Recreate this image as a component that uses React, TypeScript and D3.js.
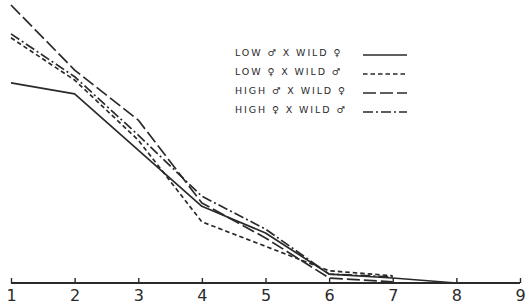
import React, { useEffect, useRef } from "react";
import * as d3 from "d3";

const classes = [1, 2, 3, 4, 5, 6, 7, 8, 9];
const tickLabels = ["1", "2", "3", "4", "5", "6", "7", "8", "9"];
const lowMaleWildFemale = [36.0, 34.0, 23.9, 13.8, 9.0, 1.6, 0.9, 0, 0];
const lowFemaleWildMale = [44.1, 36.5, 25.7, 11.0, 6.6, 2.2, 1.3];
const highMaleWildFemale = [50.0, 38.3, 29.3, 14.4, 8.1, 0.9, 0.2];
const highFemaleWildMale = [44.8, 37.1, 26.6, 15.6, 9.7, 1.6, 1.1];
const seriesNames = ["LOW ♂ X WILD ♀", "LOW ♀ X WILD ♂", "HIGH ♂ X WILD ♀", "HIGH ♀ X WILD ♂"];
const dashes = ["none", "4.5 3", "13 4", "10 3 2 3"];

const W = 529;
const H = 306;

export default function App() {
  const ref = useRef<SVGSVGElement | null>(null);
  useEffect(() => {
    const svg = d3.select(ref.current);
    svg.selectAll("*").remove();
    const x = d3.scaleLinear().domain([1, 9]).range([11, 520]);
    const y = d3.scaleLinear().domain([0, 50]).range([283, 5]);
    const ink = "#2a2a2a";
    const allSeries = [lowMaleWildFemale, lowFemaleWildMale, highMaleWildFemale, highFemaleWildMale];
    const line = d3
      .line<number>()
      .x((_, i) => x(classes[i]))
      .y((d) => y(d));
    allSeries.forEach((s, k) => {
      svg
        .append("path")
        .attr("d", line(s) as string)
        .attr("fill", "none")
        .attr("stroke", ink)
        .attr("stroke-width", 1.7)
        .attr("stroke-dasharray", dashes[k])
        .attr("stroke-linejoin", "round");
    });
    // axis
    const axis = d3
      .axisBottom(x)
      .tickValues(classes)
      .tickSize(-5)
      .tickFormat((_, i) => tickLabels[i]);
    const g = svg.append("g").attr("transform", `translate(0,${y(0)})`).call(axis);
    g.select(".domain").attr("stroke", ink).attr("stroke-width", 2).attr("d", `M${x(1)},0H${x(9)}`);
    g.selectAll(".tick line").attr("stroke", ink).attr("stroke-width", 1.4);
    g.selectAll(".tick text")
      .attr("y", 7)
      .attr("dy", "0.71em")
      .attr("fill", ink)
      .attr("font-family", "DejaVu Sans")
      .attr("font-size", 16);
    // legend
    const legendY = [52, 71, 90, 109];
    seriesNames.forEach((name, k) => {
      svg
        .append("text")
        .attr("x", 235)
        .attr("y", legendY[k] + 4)
        .attr("font-family", "DejaVu Sans")
        .attr("font-size", 9.5)
        .attr("letter-spacing", 1.9)
        .attr("fill", ink)
        .text(name);
      svg
        .append("line")
        .attr("x1", 363)
        .attr("x2", 407)
        .attr("y1", legendY[k] + 3)
        .attr("y2", legendY[k] + 3)
        .attr("stroke", ink)
        .attr("stroke-width", 1.5)
        .attr("stroke-dasharray", dashes[k]);
    });
  }, []);
  return (
    <svg
      ref={ref}
      width={W}
      height={H}
      style={{ position: "absolute", left: 0, top: 0, background: "#fff" }}
    />
  );
}
